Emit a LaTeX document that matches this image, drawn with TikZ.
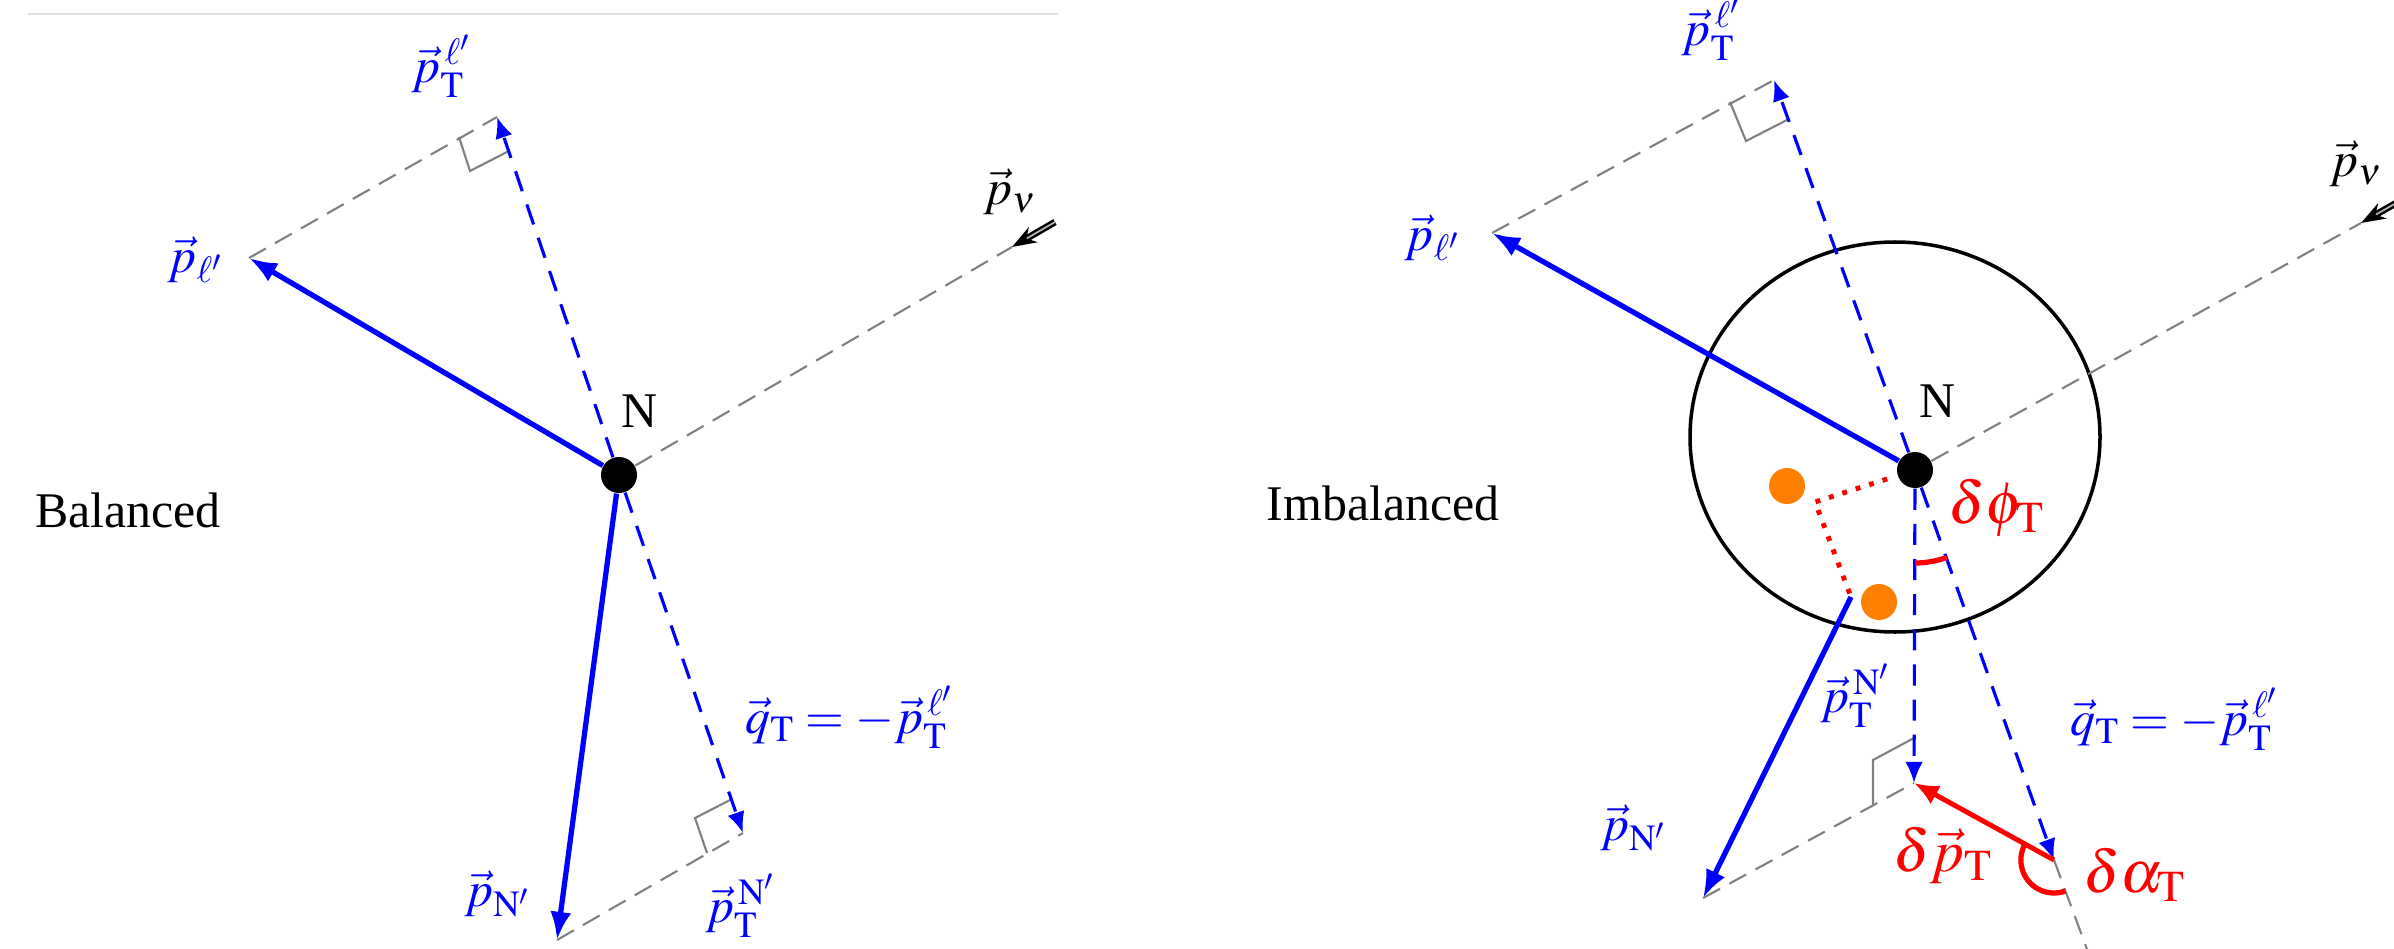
\documentclass[tikz,border=0pt]{standalone}
\usepackage{mathptmx}
\usepackage{fontspec}
\setmainfont{Liberation Serif}
\usetikzlibrary{arrows.meta}
\tikzset{
  lbl/.style         = {inner sep=0pt, font=\fontsize{14.2}{17}\selectfont},
  bluelbl/.style     = {lbl, text=blue},
  redlbl/.style      = {inner sep=0pt, text=red, font=\fontsize{17}{20}\selectfont},
  nucleus/.style     = {circle, fill=black, inner sep=0pt, minimum size=3.6mm},
  nucleon/.style     = {circle, fill=orange, inner sep=0pt, minimum size=3.6mm},
  momentum/.style    = {draw=blue, line width=1.5pt, -{Latex[length=8pt,width=6pt]}},
  transverse/.style  = {draw=blue, line width=0.9pt, dash pattern=on 6pt off 4pt,
                        -{Latex[length=6pt,width=5pt]}},
  guide/.style       = {draw=gray, line width=0.6pt, dash pattern=on 5.5pt off 3pt},
  rightangle/.style  = {draw=gray, line width=0.6pt},
  neutrino/.style    = {draw=black, double=gray!60, double distance=0.5pt, line width=0.7pt,
                        -{Stealth[length=7pt,width=5pt]}},
  imbalance/.style   = {draw=red, line width=1.4pt, -{Latex[length=7pt,width=6pt]}},
  anglemark/.style   = {draw=red, line width=1.5pt},
  pairing/.style     = {draw=red, line width=1.4pt, dash pattern=on 1.4pt off 2.6pt}
}

\begin{document}
\begin{tikzpicture}[x=0.1mm, y=0.1mm]
  \useasboundingbox (0,0) rectangle (2394,-949);
  \draw[gray!25, line width=0.3pt] (28,-14) -- (1058,-14);

  % balanced
  \node[nucleus] (NL) at (619,-475) {};
  \coordinate (lepL)  at (249,-258);
  \coordinate (ptlL)  at (497,-117);
  \coordinate (nuL)   at (1012,-247);
  \coordinate (nuinL) at (1055,-222);
  \coordinate (hadL)  at (557,-940);
  \coordinate (qtL)   at (743,-833);
  \draw[guide] (NL) -- (nuL);
  \draw[guide] (lepL) -- (ptlL);
  \draw[guide] (hadL) -- (qtL);
  \draw[rightangle] (459,-137) -- (470,-171) -- (507,-152);
  \draw[rightangle] (732,-799) -- (695,-818) -- (707,-853);
  \draw[transverse] (NL) -- (ptlL);
  \draw[transverse] (NL) -- (qtL);
  \draw[momentum] (NL) -- (lepL);
  \draw[momentum] (NL) -- (hadL);
  \draw[neutrino] (nuinL) -- (nuL);
  \node[lbl]     (balanced) at (128,-510) {Balanced};
  \node[lbl]     (NLlab)    at (640,-411) {N};
  \node[lbl]     (nuLlab)   at (1010,-192) {$\vec{p}_{\nu}$};
  \node[bluelbl] (ptlLlab)  at (442,-66)  {$\vec{p}^{\,\ell'}_{\mathrm{T}}$};
  \node[bluelbl] (lepLlab)  at (196,-260) {$\vec{p}_{\ell'}$};
  \node[bluelbl] (qtLlab)   at (850,-717) {$\vec{q}_{\mathrm{T}}=-\vec{p}^{\,\ell'}_{\mathrm{T}}$};
  \node[bluelbl] (hadLlab)  at (498,-894) {$\vec{p}_{\mathrm{N}'}$};
  \node[bluelbl] (ptnLlab)  at (741,-906) {$\vec{p}^{\,\mathrm{N}'}_{\mathrm{T}}$};

  % imbalanced
  \draw[line width=1pt] (1895,-437) ellipse [x radius=20.5mm, y radius=19.5mm];
  \node[nucleus] (NR)   at (1915,-470) {};
  \node[nucleon] (nuc1) at (1787,-486) {};
  \node[nucleon] (nuc2) at (1879,-602) {};
  \coordinate (lepR)     at (1492,-233);
  \coordinate (ptlR)     at (1774,-80);
  \coordinate (nuR)      at (2361,-223);
  \coordinate (nuinR)    at (2405,-198);
  \coordinate (hadstart) at (1851,-597);
  \coordinate (hadR)     at (1703,-898);
  \coordinate (pairC)    at (1815,-502);
  \coordinate (ptnR)     at (1914,-783);
  \coordinate (qtR)      at (2054,-860);
  \coordinate (extR)     at (2088,-952);
  \draw[guide] (NR) -- (nuR);
  \draw[guide] (lepR) -- (ptlR);
  \draw[guide] (hadR) -- (ptnR);
  \draw[guide] (qtR) -- (extR);
  \draw[rightangle] (1730,-102) -- (1746,-141) -- (1787,-120);
  \draw[rightangle] (1914,-738) -- (1873,-760) -- (1873,-806);
  \draw[transverse] (NR) -- (ptlR);
  \draw[transverse] (NR) -- (qtR);
  \draw[transverse] (NR) -- (ptnR);
  \draw[momentum] (NR) -- (lepR);
  \draw[momentum] (hadstart) -- (hadR);
  \draw[pairing, shorten <=3pt] (NR) -- (pairC) -- (hadstart);
  \draw[imbalance] (qtR) -- (ptnR);
  \draw[anglemark] (1915,-563) arc[start angle=270, end angle=290, radius=9.3mm];
  \draw[anglemark] (2025,-844) arc[start angle=151, end angle=290, radius=3.3mm];
  \draw[neutrino] (nuinR) -- (nuR);
  \node[lbl]     (imbalanced) at (1383,-503) {Imbalanced};
  \node[lbl]     (NRlab)   at (1937,-401) {N};
  \node[lbl]     (nuRlab)  at (2356,-164) {$\vec{p}_{\nu}$};
  \node[bluelbl] (ptlRlab) at (1712,-29)  {$\vec{p}^{\,\ell'}_{\mathrm{T}}$};
  \node[bluelbl] (lepRlab) at (1433,-238) {$\vec{p}_{\ell'}$};
  \node[bluelbl] (ptnRlab) at (1856,-696) {$\vec{p}^{\,\mathrm{N}'}_{\mathrm{T}}$};
  \node[bluelbl] (qtRlab)  at (2175,-719) {$\vec{q}_{\mathrm{T}}=-\vec{p}^{\,\ell'}_{\mathrm{T}}$};
  \node[bluelbl] (hadRlab) at (1634,-828) {$\vec{p}_{\mathrm{N}'}$};
  \node[redlbl]  (dphi)    at (1997,-508) {$\delta\phi_{\mathrm{T}}$};
  \node[redlbl]  (dpt)     at (1943,-855) {$\delta\vec{p}_{\mathrm{T}}$};
  \node[redlbl]  (dalpha)  at (2135,-875) {$\delta\alpha_{\mathrm{T}}$};
\end{tikzpicture}
\end{document}
